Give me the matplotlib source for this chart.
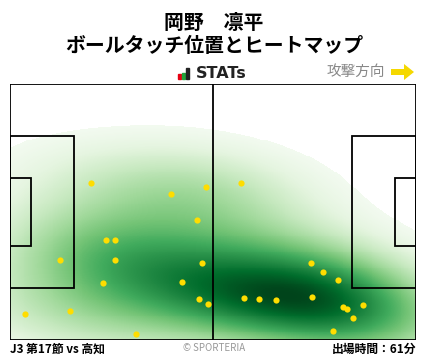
import numpy as np
import matplotlib
matplotlib.use("Agg")
import matplotlib.pyplot as plt
from matplotlib.patches import Rectangle, FancyArrow

plt.rcParams['font.family'] = ['Noto Sans CJK JP', 'DejaVu Sans']

# touch positions (metres, x towards attacking goal, y measured from top touchline)
touch_x = [21.0, 41.7, 50.8, 48.4, 24.9, 27.2, 13.0, 27.2, 49.7, 24.1, 44.6, 49.0, 51.3,
           4.0, 15.6, 32.7, 59.8, 77.9, 81.0, 84.9, 60.6, 64.5, 68.9, 78.2, 86.2, 87.2,
           91.4, 88.8, 83.6]
touch_y = [26.2, 29.1, 27.3, 36.1, 41.4, 41.4, 46.7, 46.7, 47.5, 52.9, 52.6, 57.2, 58.5,
           61.2, 60.4, 66.5, 26.2, 47.5, 50.0, 52.1, 56.9, 57.2, 57.4, 56.6, 59.3, 59.8,
           58.8, 62.2, 65.7]

title_name = "岡野　凛平"
title_sub = "ボールタッチ位置とヒートマップ"
match_label = "J3 第17節 vs 高知"
minutes_label = "出場時間：61分"

L, W = 105.0, 68.0

fig = plt.figure(figsize=(4.28, 3.59), dpi=100)
ax = fig.add_axes([10 / 428, 19 / 359, 406 / 428, 256 / 359])

# gaussian KDE (scott's rule widened, full covariance)
pts = np.vstack([touch_x, touch_y])
n = pts.shape[1]
factor = 1.35 * n ** (-1.0 / 6)
cov = np.cov(pts) * factor ** 2
inv = np.linalg.inv(cov)
gx, gy = np.meshgrid(np.linspace(0, L, 420), np.linspace(0, W, 272))
grid = np.vstack([gx.ravel(), gy.ravel()])
diff = grid[:, :, None] - pts[:, None, :]
q = np.einsum('ikn,ij,jkn->kn', diff, inv, diff)
dens = np.exp(-0.5 * q).sum(axis=1).reshape(gx.shape)
dens = dens / dens.max()

thresh = 0.06
norm = plt.Normalize(thresh - 0.03, 1.0)
rgba = plt.get_cmap('Greens')(norm(dens))
rgba[..., 3] = np.where(dens < thresh, 0.0, 1.0)
ax.imshow(rgba, extent=(0, L, W, 0), origin='upper', interpolation='nearest',
          aspect='auto', zorder=1)

# pitch lines
lw = 1.3
ax.add_patch(Rectangle((0, 0), L, W, fill=False, ec='black', lw=lw, zorder=3))
ax.plot([L / 2, L / 2], [0, W], color='black', lw=lw, zorder=3)
pb_h, ga_h = 40.3, 18.32
ax.add_patch(Rectangle((0, (W - pb_h) / 2), 16.5, pb_h, fill=False, ec='black', lw=lw, zorder=3))
ax.add_patch(Rectangle((L - 16.5, (W - pb_h) / 2), 16.5, pb_h, fill=False, ec='black', lw=lw, zorder=3))
ax.add_patch(Rectangle((0, (W - ga_h) / 2), 5.5, ga_h, fill=False, ec='black', lw=lw, zorder=3))
ax.add_patch(Rectangle((L - 5.5, (W - ga_h) / 2), 5.5, ga_h, fill=False, ec='black', lw=lw, zorder=3))

ax.scatter(touch_x, touch_y, s=20, color='#ffdd00', zorder=4, linewidths=0)

ax.set_xlim(0, L)
ax.set_ylim(W, 0)
ax.set_xticks([])
ax.set_yticks([])
for s in ax.spines.values():
    s.set_visible(False)

# titles
fig.text(0.5, 1 - 22 / 359, title_name, ha='center', va='center', fontsize=14.3, fontweight='bold')
fig.text(0.5, 1 - 46 / 359, title_sub, ha='center', va='center', fontsize=14.3, fontweight='bold')

# STATs logo
for i, (c, h) in enumerate([('#e60012', 5), ('#22a33a', 6), ('#222222', 11)]):
    fig.patches.append(Rectangle(((178 + i * 4) / 428, 1 - 79 / 359), 3 / 428, h / 359,
                                 transform=fig.transFigure, color=c))
fig.text(196 / 428, 1 - 73 / 359, "STATs", ha='left', va='center', fontsize=11.5,
         fontweight='bold', color='#222222', family='DejaVu Sans')

fig.text(385 / 428, 1 - 72 / 359, "攻撃方向", ha='right', va='center', fontsize=10.5, color='#888888')
fig.patches.append(FancyArrow(391 / 428, 1 - 72 / 359, 13 / 428, 0, width=6 / 359,
                              head_width=16 / 359, head_length=10 / 428, length_includes_head=False,
                              transform=fig.transFigure, color='#f5d800', lw=0))

# footer
fig.text(10 / 428, 1 - 349 / 359, match_label, ha='left', va='center', fontsize=8.5, fontweight='bold')
fig.text(0.5, 1 - 348 / 359, "© SPORTERIA", ha='center', va='center', fontsize=7, color='#999999')
fig.text(416 / 428, 1 - 349 / 359, minutes_label, ha='right', va='center', fontsize=8.5, fontweight='bold')

fig.savefig("out.png", dpi=100)
